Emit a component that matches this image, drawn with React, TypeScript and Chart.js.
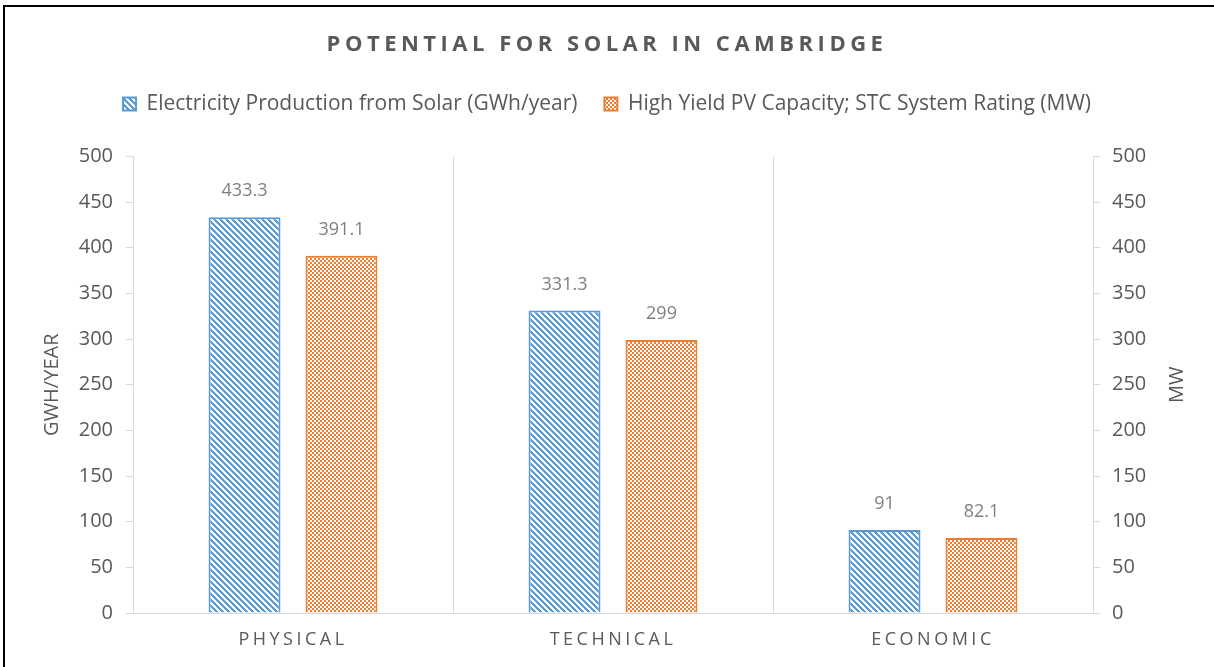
import React, { useEffect, useRef } from 'react';
import { Chart, registerables } from 'chart.js';
Chart.register(...registerables);

const categories = ['PHYSICAL', 'TECHNICAL', 'ECONOMIC'];
const electricityGWh = [433.3, 331.3, 91];
const capacityMW = [391.1, 299, 82.1];
const seriesNames = [
  'Electricity Production from Solar (GWh/year)',
  'High Yield PV Capacity; STC System Rating (MW)',
];
const chartTitle = 'POTENTIAL FOR SOLAR IN CAMBRIDGE';
const leftAxisTitle = 'GWH/YEAR';
const rightAxisTitle = 'MW';
const axisMin = 0;
const axisMax = 500;
const axisStep = 50;

const FONT = "'Open Sans', sans-serif";
const TEXT = '#595959';
const AXIS = '#D9D9D9';
const BLUE = '#5B9BD5';
const ORANGE = '#ED7D31';

function stripePattern(ctx: CanvasRenderingContext2D, color: string) {
  const n = 6;
  const c = document.createElement('canvas');
  c.width = n; c.height = n;
  const g = c.getContext('2d')!;
  g.fillStyle = '#ffffff'; g.fillRect(0, 0, n, n);
  g.fillStyle = color;
  for (let y = 0; y < n; y++) for (let x = 0; x < n; x++) {
    if ((((x - y) % n) + n) % n < 3) g.fillRect(x, y, 1, 1);
  }
  return ctx.createPattern(c, 'repeat')!;
}

function checkerPattern(ctx: CanvasRenderingContext2D, color: string) {
  const n = 4;
  const c = document.createElement('canvas');
  c.width = n; c.height = n;
  const g = c.getContext('2d')!;
  g.fillStyle = '#ffffff'; g.fillRect(0, 0, n, n);
  g.fillStyle = color;
  for (let y = 0; y < n; y++) for (let x = 0; x < n; x++) {
    if ((Math.floor(x / 2) + Math.floor(y / 2)) % 2 === 0) g.fillRect(x, y, 1, 1);
  }
  return ctx.createPattern(c, 'repeat')!;
}

const patchPlugin = {
  id: 'patches',
  beforeLayout(chart: any) {
    const ctx = chart.ctx as CanvasRenderingContext2D;
    const lg = chart.legend;
    if (lg && !lg.__p) {
      lg.__p = true;
      const of = lg.fit.bind(lg);
      lg.fit = function () { of(); this.height = 90; };
    }
    const tb = chart.titleBlock;
    if (tb && !tb.__p) {
      tb.__p = true;
      const od = tb.draw.bind(tb);
      tb.draw = function (a: any) { ctx.save(); (ctx as any).letterSpacing = '4.5px'; od(a); ctx.restore(); };
    }
    const sx = chart.scales.x;
    if (sx && !sx.__p) {
      sx.__p = true;
      const ol = sx.drawLabels.bind(sx);
      sx.drawLabels = function (a: any) { ctx.save(); (ctx as any).letterSpacing = '3.5px'; ol(a); ctx.restore(); };
    }
    const sr = chart.scales.y1;
    if (sr && !sr.__p) {
      sr.__p = true;
      const ot = sr.drawTitle.bind(sr);
      sr.drawTitle = function () {
        const lh = 20 * 1.2;
        const cx = this.right - (25 + lh / 2);
        const cy = (this.top + this.bottom) / 2;
        ctx.save();
        ctx.translate(cx, cy); ctx.rotate(Math.PI); ctx.translate(-cx, -cy);
        ot();
        ctx.restore();
      };
    }
  },
  afterDatasetsDraw(chart: any) {
    const ctx = chart.ctx as CanvasRenderingContext2D;
    ctx.save();
    ctx.font = `18px ${FONT}`;
    ctx.fillStyle = '#7F7F7F';
    ctx.textAlign = 'center';
    ctx.textBaseline = 'middle';
    chart.data.datasets.forEach((ds: any, i: number) => {
      chart.getDatasetMeta(i).data.forEach((el: any, j: number) => {
        ctx.fillText(String(ds.data[j]), el.x, el.y - 26);
      });
    });
    ctx.restore();
  },
  afterDraw(chart: any) {
    const ctx = chart.ctx as CanvasRenderingContext2D;
    ctx.save();
    ctx.fillStyle = '#000000';
    ctx.fillRect(3, 5, chart.width - 3, 2);
    ctx.fillRect(3, 5, 2, chart.height - 5);
    ctx.restore();
  },
};

export default function App() {
  const ref = useRef<HTMLCanvasElement>(null);
  useEffect(() => {
    const canvas = ref.current!;
    const ctx = canvas.getContext('2d')!;
    const blueFill = stripePattern(ctx, BLUE);
    const orangeFill = checkerPattern(ctx, ORANGE);
    const chart = new Chart(canvas, {
      type: 'bar',
      data: {
        labels: categories,
        datasets: [
          {
            label: seriesNames[0],
            data: electricityGWh,
            backgroundColor: blueFill as any,
            borderColor: BLUE,
            borderWidth: 2,
            yAxisID: 'y',
            categoryPercentage: 0.606,
            barPercentage: 0.742,
          },
          {
            label: seriesNames[1],
            data: capacityMW,
            backgroundColor: orangeFill as any,
            borderColor: ORANGE,
            borderWidth: 2,
            yAxisID: 'y1',
            categoryPercentage: 0.606,
            barPercentage: 0.742,
          },
        ],
      },
      options: {
        responsive: false,
        animation: false,
        devicePixelRatio: 1,
        layout: { padding: 0 },
        plugins: {
          title: {
            display: true,
            text: chartTitle,
            color: TEXT,
            font: { family: FONT, size: 22, weight: 'bold' },
            padding: { top: 32, bottom: 8 },
          },
          legend: {
            display: true,
            position: 'top',
            labels: {
              color: TEXT,
              font: { family: FONT, size: 21 },
              boxWidth: 13,
              boxHeight: 13,
              padding: 27,
            },
          },
          tooltip: { enabled: false },
        },
        scales: {
          x: {
            type: 'category',
            grid: { color: AXIS, drawTicks: false, offset: true },
            border: { color: AXIS },
            ticks: { color: TEXT, font: { family: FONT, size: 18 }, padding: 16 },
            afterFit: (s: any) => { s.height = 54; },
          },
          y: {
            position: 'left',
            min: axisMin,
            max: axisMax,
            ticks: { stepSize: axisStep, color: TEXT, font: { family: FONT, size: 20 }, padding: 13 },
            grid: { drawOnChartArea: false, drawTicks: true, tickLength: 7, color: AXIS },
            border: { color: AXIS },
            title: { display: true, text: leftAxisTitle, color: TEXT, font: { family: FONT, size: 20 }, padding: { top: 40, bottom: 0 } },
            afterFit: (s: any) => { s.width = 133; },
          },
          y1: {
            position: 'right',
            min: axisMin,
            max: axisMax,
            ticks: { stepSize: axisStep, color: TEXT, font: { family: FONT, size: 20 }, padding: 12 },
            grid: { drawOnChartArea: false, drawTicks: true, tickLength: 7, color: AXIS },
            border: { color: AXIS },
            title: { display: true, text: rightAxisTitle, color: TEXT, font: { family: FONT, size: 20 }, padding: { top: 25, bottom: 0 } },
            afterFit: (s: any) => { s.width = 121; },
          },
        },
      },
      plugins: [patchPlugin as any],
    });
    return () => chart.destroy();
  }, []);
  return (
    <div style={{ position: 'absolute', left: 0, top: 0, width: 1214, height: 667, background: '#fff' }}>
      <canvas ref={ref} width={1214} height={667} style={{ display: 'block' }} />
    </div>
  );
}
